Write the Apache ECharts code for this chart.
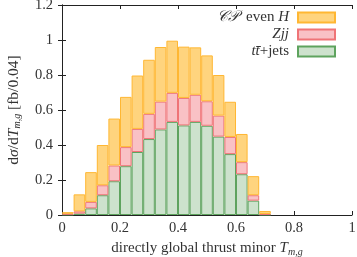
<!DOCTYPE html>
<html><head><meta charset="utf-8">
<script src="https://cdn.jsdelivr.net/npm/echarts@6/dist/echarts.min.js"></script>
<style>html,body{margin:0;padding:0;background:#fff}#c{width:357px;height:257px}</style>
</head><body><div id="c"></div>
<script>
const binEdges = ['0.00','0.04','0.08','0.12','0.16','0.20','0.24','0.28','0.32','0.36','0.40','0.44','0.48','0.52','0.56','0.60','0.64','0.68','0.72','0.76','0.80','0.84','0.88','0.92','0.96'];
const ttjets = [0.003,0.008,0.038,0.113,0.193,0.279,0.360,0.434,0.489,0.532,0.512,0.532,0.510,0.448,0.348,0.233,0.082,0.002,0,0,0,0,0,0,0];
const zjj    = [0.004,0.013,0.037,0.057,0.090,0.109,0.132,0.144,0.159,0.166,0.157,0.155,0.140,0.120,0.098,0.069,0.031,0.004,0,0,0,0,0,0,0];
const cpEvenH= [0.009,0.097,0.170,0.230,0.268,0.287,0.305,0.309,0.312,0.298,0.293,0.271,0.262,0.232,0.201,0.161,0.109,0.017,0,0,0,0,0,0,0];
const xTicks = [0,0.2,0.4,0.6,0.8,1];
const yTicks = [0,0.2,0.4,0.6,0.8,1,1.2];

const FONT = 'Liberation Serif';
const TXT = '#333';
const chart = echarts.init(document.getElementById('c'), null, {renderer:'canvas'});
const fmt = v => String(+v.toFixed(1));
const nz = arr => arr.map(v => (v === 0 ? '-' : v));
const axisCommon = {
  axisLine:{show:true,lineStyle:{color:'#222',width:1}},
  axisTick:{show:true,inside:true,length:4,lineStyle:{color:'#222'}},
  splitLine:{show:false},
};
const lab = {fontFamily:FONT,fontSize:14.5,color:TXT};
const it = {fontFamily:FONT,fontStyle:'italic',fontSize:15,color:TXT};
const sub = {fontFamily:FONT,fontStyle:'italic',fontSize:10,color:TXT};
chart.setOption({
  animation:false,
  grid:{left:62,right:5,top:5,bottom:42,containLabel:false,outerBoundsMode:'none'},
  legend:{
    right:21, top:10, orient:'vertical', align:'right', itemGap:2, padding:0,
    itemWidth:37, itemHeight:10, icon:'rect',
    data:['H','Z','T'],
    formatter: n => n==='H' ? '{i|𝒞𝒫}  even {i|H}' : n==='Z' ? '{i|Zjj}' : '{i|tt̄}+jets',
    textStyle:{fontFamily:FONT,fontSize:15,lineHeight:14,color:TXT,padding:[0,4,0,0],rich:{i:Object.assign({lineHeight:14},it)}}
  },
  xAxis:[
    {type:'category',data:binEdges,show:false,boundaryGap:true},
    Object.assign({type:'value',min:0,max:1,interval:0.2,position:'bottom',
      axisLabel:Object.assign({formatter:fmt,margin:6},lab),
      name:'directly global thrust minor {i|T}{s|m,g}',nameLocation:'middle',nameGap:22,
      nameTextStyle:{fontFamily:FONT,fontSize:15,color:TXT,rich:{i:it,s:Object.assign({padding:[7,0,0,0]},sub)}}
    },axisCommon),
    Object.assign({type:'value',min:0,max:1,interval:0.2,position:'top',axisLabel:{show:false}},axisCommon)
  ],
  yAxis:[
    Object.assign({type:'value',min:0,max:1.2,interval:0.2,position:'left',
      axisLabel:Object.assign({formatter:fmt,margin:9},lab),
      name:'d{i|σ}/d{i|T}{s|m,g} [fb/0.04]',nameLocation:'middle',nameGap:40,
      nameTextStyle:{fontFamily:FONT,fontSize:15.5,color:TXT,rich:{i:Object.assign({},it,{fontSize:15.5}),s:Object.assign({padding:[7,0,0,0]},sub)}}
    },axisCommon),
    Object.assign({type:'value',min:0,max:1.2,interval:0.2,position:'right',axisLabel:{show:false}},axisCommon)
  ],
  series:[
    {name:'T',type:'bar',stack:'s',data:nz(ttjets),xAxisIndex:0,yAxisIndex:0,barCategoryGap:'0%',
      itemStyle:{color:'#cde2cd',borderColor:'#5ea35e',borderWidth:1}},
    {name:'Z',type:'bar',stack:'s',data:nz(zjj),xAxisIndex:0,yAxisIndex:0,barCategoryGap:'0%',
      itemStyle:{color:'#f9c1c5',borderColor:'#ef7477',borderWidth:1}},
    {name:'H',type:'bar',stack:'s',data:nz(cpEvenH),xAxisIndex:0,yAxisIndex:0,barCategoryGap:'0%',
      itemStyle:{color:'#ffd47e',borderColor:'#ffb733',borderWidth:1}}
  ]
});
</script></body></html>
